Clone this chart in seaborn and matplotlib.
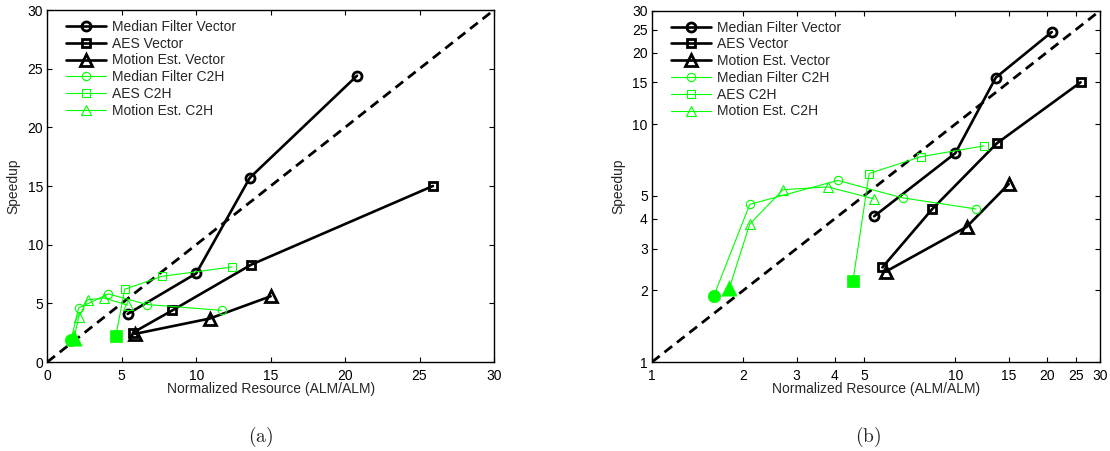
import matplotlib
matplotlib.use("Agg")
import matplotlib.pyplot as plt
import seaborn as sns
from matplotlib.ticker import FixedLocator, FixedFormatter, NullLocator

# values (same data, linear and log-log)
mf_vec_x = [5.4, 10.0, 13.6, 20.8]
mf_vec_y = [4.1, 7.55, 15.7, 24.4]
aes_vec_x = [5.75, 8.4, 13.7, 25.9]
aes_vec_y = [2.5, 4.4, 8.3, 15.0]
me_vec_x = [5.9, 10.9, 15.0]
me_vec_y = [2.4, 3.7, 5.6]

mf_c2h_x = [1.6, 2.1, 4.1, 6.7, 11.7]
mf_c2h_y = [1.9, 4.6, 5.8, 4.9, 4.4]
aes_c2h_x = [4.6, 5.2, 7.7, 12.4]
aes_c2h_y = [2.2, 6.2, 7.3, 8.1]
me_c2h_x = [1.8, 2.1, 2.7, 3.8, 5.4]
me_c2h_y = [2.05, 3.8, 5.3, 5.45, 4.85]

diag_lin = [0, 30]
diag_log = [1, 30]

lin_ticks = [0, 5, 10, 15, 20, 25, 30]
log_ticks = [1, 2, 3, 4, 5, 10, 15, 20, 25, 30]

GREEN = "#00ff00"
BLACK = "black"

sns.set_theme(style="ticks", rc={
    "axes.linewidth": 1.0,
    "axes.edgecolor": "black",
    "mathtext.fontset": "cm",
})
plt.rcParams["font.family"] = ["Liberation Sans", "DejaVu Sans"]
plt.rcParams["font.size"] = 10


def draw(ax, diag):
    sns.lineplot(x=diag, y=diag, ax=ax, color=BLACK, lw=2.0, sort=False)
    ax.lines[-1].set_linestyle((0, (3.5, 2.2)))

    vec = [
        (mf_vec_x, mf_vec_y, "o", 6.5, "Median Filter Vector"),
        (aes_vec_x, aes_vec_y, "s", 6.0, "AES Vector"),
        (me_vec_x, me_vec_y, "^", 8.5, "Motion Est. Vector"),
    ]
    for x, y, m, ms, lab in vec:
        sns.lineplot(x=x, y=y, ax=ax, sort=False, color=BLACK, lw=1.9, marker=m,
                     markersize=ms, markerfacecolor="none", markeredgecolor=BLACK,
                     markeredgewidth=2.0, label=lab)

    c2h = [
        (mf_c2h_x, mf_c2h_y, "o", 6.0, 80, "Median Filter C2H"),
        (aes_c2h_x, aes_c2h_y, "s", 5.5, 64, "AES C2H"),
        (me_c2h_x, me_c2h_y, "^", 7.0, 120, "Motion Est. C2H"),
    ]
    for x, y, m, ms, s, lab in c2h:
        sns.lineplot(x=x, y=y, ax=ax, sort=False, color=GREEN, lw=0.8, marker=m,
                     markersize=ms, markerfacecolor="none", markeredgecolor=GREEN,
                     markeredgewidth=0.8, label=lab)
        # first point is drawn as a large filled marker
        sns.scatterplot(x=x[:1], y=y[:1], ax=ax, marker=m, s=s, color=GREEN,
                        edgecolor=GREEN, linewidth=0.5, legend=False, zorder=5)

    ax.set_xlim(diag[0], diag[-1])
    ax.set_ylim(diag[0], diag[-1])
    ax.tick_params(direction="in", top=True, right=True, length=3.5, width=0.8,
                   labelsize=10, colors="black")
    ax.tick_params(axis="x", pad=5)
    ax.tick_params(axis="y", pad=3)
    ax.set_xlabel("Normalized Resource (ALM/ALM)", fontsize=10)
    ax.set_ylabel("Speedup", fontsize=10)
    for sp in ax.spines.values():
        sp.set_visible(True)
        sp.set_color("black")

    handles, labels = ax.get_legend_handles_labels()
    ax.legend(handles, labels, loc="upper left", bbox_to_anchor=(0.042, 0.972),
              borderaxespad=0, borderpad=0, frameon=False, fontsize=10,
              handlelength=2.9, handletextpad=0.4, labelspacing=0.2)


fig = plt.figure(figsize=(11.10, 4.51), dpi=100)
ax1 = fig.add_axes([47.3 / 1110, 89 / 451, 446.7 / 1110, 352 / 451])
ax2 = fig.add_axes([652 / 1110, 89 / 451, 448 / 1110, 351.3 / 451])

draw(ax1, diag_lin)
ax1.xaxis.set_major_locator(FixedLocator(lin_ticks))
ax1.yaxis.set_major_locator(FixedLocator(lin_ticks))

ax2.set_xscale("log")
ax2.set_yscale("log")
draw(ax2, diag_log)
for axis in (ax2.xaxis, ax2.yaxis):
    axis.set_major_locator(FixedLocator(log_ticks))
    axis.set_major_formatter(FixedFormatter([str(t) for t in log_ticks]))
    axis.set_minor_locator(NullLocator())

for ax in (ax1, ax2):
    w = ax.get_position().width * 1110
    h = ax.get_position().height * 451
    ax.yaxis.set_label_coords(-27 / w, 0.5)
    ax.xaxis.set_label_coords(0.5, -20 / h)

fig.text(261 / 1110, 1 - 437 / 451, r"$\mathrm{(a)}$", ha="center", va="center", fontsize=14)
fig.text(868 / 1110, 1 - 437 / 451, r"$\mathrm{(b)}$", ha="center", va="center", fontsize=14)

fig.savefig("out.png", dpi=100, facecolor="white")
